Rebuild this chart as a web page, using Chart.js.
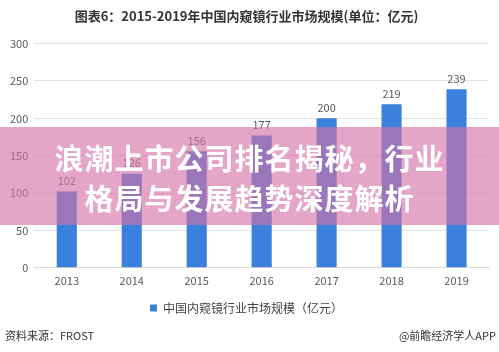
<!DOCTYPE html>
<html>
<head>
<meta charset="utf-8">
<script src="https://cdn.jsdelivr.net/npm/chart.js@4"></script>
<style>
  html, body { margin: 0; padding: 0; background: #fff; }
  #wrap { position: relative; width: 499px; height: 352px; overflow: hidden; font-family: "Noto Sans CJK SC", "Noto Sans", sans-serif; }
  #banner {
    position: absolute; left: 0; top: 127px; width: 499px; height: 98px;
    background: rgba(212, 112, 167, 0.63);
    color: #fff; font-weight: 700; font-size: 29px; line-height: 40px;
    text-align: center; padding-top: 10px; box-sizing: border-box;
    letter-spacing: 1px;
  }
  .foot { position: absolute; top: 327px; font-size: 11px; color: #333; }
</style>
</head>
<body>
<div id="wrap">
  <canvas id="chart" width="499" height="352"></canvas>
  <div id="banner">浪潮上市公司排名揭秘，行业<br>格局与发展趋势深度解析</div>
  <div class="foot" style="left:5px;">资料来源：FROST</div>
  <div class="foot" style="right:3px;">@前瞻经济学人APP</div>
</div>
<script>
// chart data
const years = ['2013', '2014', '2015', '2016', '2017', '2018', '2019'];
const marketSize = [102, 126, 156, 177, 200, 219, 239];
const yTicks = [0, 50, 100, 150, 200, 250, 300];

const seriesName = '中国内窥镜行业市场规模（亿元）';
const chartTitle = '图表6：2015-2019年中国内窥镜行业市场规模(单位：亿元)';

const fontFamily = '"Noto Sans CJK SC", "Noto Sans", sans-serif';

// value labels above bars
const valueLabels = {
    id: 'valueLabels',
    afterDatasetsDraw(chart) {
        const ctx = chart.ctx;
        const meta = chart.getDatasetMeta(0);
        ctx.save();
        ctx.font = '11px ' + fontFamily;
        ctx.fillStyle = '#595959';
        ctx.textAlign = 'center';
        ctx.textBaseline = 'bottom';
        meta.data.forEach((bar, i) => {
            ctx.fillText(marketSize[i], bar.x, bar.y - 5);
        });
        ctx.restore();
    },
};

new Chart(document.getElementById('chart').getContext('2d'), {
    type: 'bar',
    data: {
        labels: years,
        datasets: [{
            label: seriesName,
            data: marketSize,
            backgroundColor: '#3a80dd',
            categoryPercentage: 1,
            barPercentage: 0.31,
        }],
    },
    options: {
        responsive: false,
        animation: false,
        devicePixelRatio: 1,
        layout: { padding: { left: 4, right: 10, top: 0, bottom: 28 } },
        plugins: {
            title: {
                display: true,
                text: chartTitle,
                color: '#333',
                font: { family: fontFamily, size: 13, weight: 'bold' },
                padding: { top: 8, bottom: 20 },
            },
            legend: {
                position: 'bottom',
                labels: {
                    color: '#444',
                    font: { family: fontFamily, size: 12 },
                    boxWidth: 7,
                    boxHeight: 7,
                    padding: 9,
                },
            },
            tooltip: { enabled: false },
        },
        scales: {
            x: {
                grid: { display: false, drawTicks: false },
                border: { color: '#d9d9d9' },
                ticks: { color: '#595959', font: { family: fontFamily, size: 11 }, padding: 6 },
            },
            y: {
                min: 0,
                max: 300,
                border: { display: false },
                grid: { color: '#e3e3e3', drawTicks: false },
                afterBuildTicks: (axis) => {
                    axis.ticks = yTicks.map(v => ({ value: v }));
                },
                ticks: { color: '#595959', font: { family: fontFamily, size: 11 }, padding: 6 },
            },
        },
    },
    plugins: [valueLabels],
});
</script>
</body>
</html>
